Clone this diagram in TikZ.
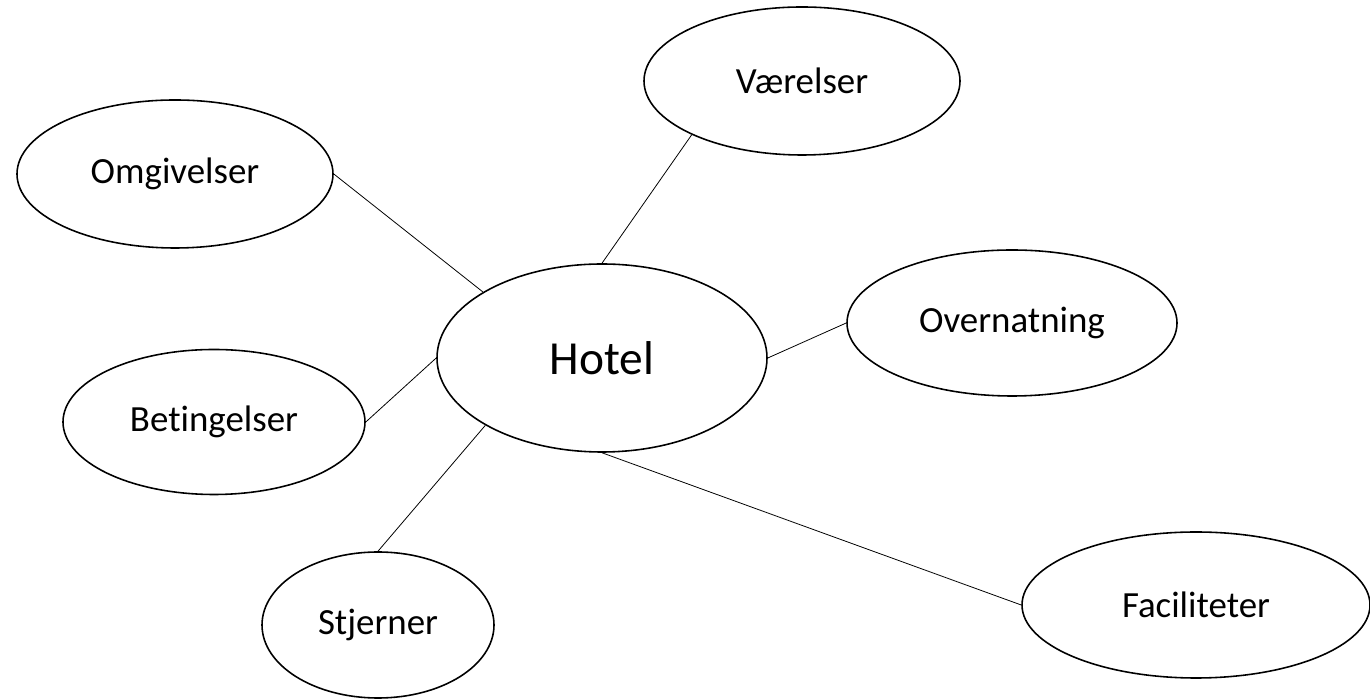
\documentclass[tikz,border=0pt]{standalone}
\usepackage{fontspec}
\setmainfont{Carlito}[Ligatures=NoCommon]
\usetikzlibrary{shapes.geometric}

\begin{document}
\begin{tikzpicture}[
    tema/.style={draw, ellipse, line width=0.9pt, inner sep=0pt, font=\fontsize{21}{25}\selectfont},
    collega/.style={line width=0.45pt}
  ]
    \useasboundingbox (0,0) rectangle (27.4,13.98);

    % Nodo centrale
    \node[tema, minimum width=6.6cm, minimum height=3.76cm, font=\fontsize{27}{32}\selectfont] (hotel) at (12.04,6.82) {Hotel};

    % Argomenti attorno al centro
    \node[tema, minimum width=6.32cm, minimum height=2.96cm] (omgivelser) at (3.50,10.50) {Omgivelser};
    \node[tema, minimum width=6.32cm, minimum height=2.96cm] (vaerelser) at (16.04,12.36) {Værelser};
    \node[tema, minimum width=6.6cm, minimum height=2.92cm] (overnatning) at (20.24,7.52) {Overnatning};
    \node[tema, minimum width=6.04cm, minimum height=2.90cm] (betingelser) at (4.28,5.54) {Betingelser};
    \node[tema, minimum width=4.64cm, minimum height=2.92cm] (stjerner) at (7.56,1.48) {Stjerner};
    \node[tema, minimum width=6.96cm, minimum height=2.92cm] (faciliteter) at (23.92,1.88) {Faciliteter};

    % Collegamenti
    \draw[collega] (omgivelser.east) -- (hotel.151);
    \draw[collega] (vaerelser.206) -- (hotel.north);
    \draw[collega] (overnatning.west) -- (hotel.east);
    \draw[collega] (betingelser.east) -- (hotel.west);
    \draw[collega] (stjerner.north) -- (hotel.210);
    \draw[collega] (faciliteter.west) -- (hotel.south);
\end{tikzpicture}
\end{document}
